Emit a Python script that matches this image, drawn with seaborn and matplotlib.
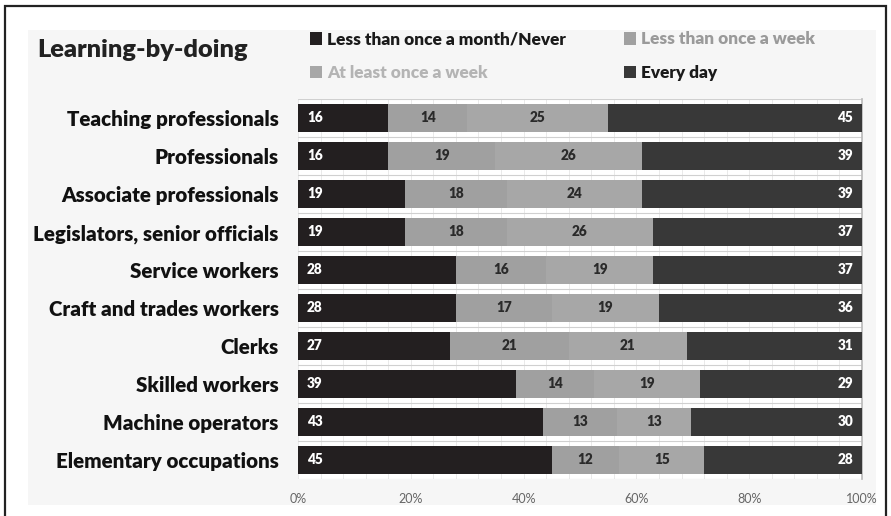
import numpy as np
import pandas as pd
import matplotlib
matplotlib.use("Agg")
import matplotlib.pyplot as plt
from matplotlib.patches import Rectangle, Patch
import seaborn as sns

# -------------------- data --------------------
categories = [
    "Teaching professionals",
    "Professionals",
    "Associate professionals",
    "Legislators, senior officials",
    "Service workers",
    "Craft and trades workers",
    "Clerks",
    "Skilled workers",
    "Machine operators",
    "Elementary occupations",
]
series_names = [
    "Less than once a month/Never",
    "Less than once a week",
    "At least once a week",
    "Every day",
]
never = [16, 16, 19, 19, 28, 28, 27, 39, 43, 45]
less_week = [14, 19, 18, 18, 16, 17, 21, 14, 13, 12]
least_week = [25, 26, 24, 26, 19, 19, 21, 19, 13, 15]
every_day = [45, 39, 39, 37, 37, 36, 31, 29, 30, 28]
x_ticks = [0, 20, 40, 60, 80, 100]
# ----------------------------------------------

seg_colors = ["#231f20", "#a0a0a0", "#a7a7a7", "#383838"]
legend_text_colors = ["#1a1a1a", "#9a9a9a", "#b4b4b4", "#1a1a1a"]
label_colors = ["white", "#2a2a2a", "#2a2a2a", "white"]

sns.set_theme(style="white")
plt.rcParams["font.family"] = ["Lato", "DejaVu Sans"]

df = pd.DataFrame(
    {"cat": categories, "s0": never, "s1": less_week, "s2": least_week, "s3": every_day}
)
segs = df[["s0", "s1", "s2", "s3"]].to_numpy(dtype=float)
# 100% stacked: rounded labels don't always add to 100, so scale each row
shares = segs / segs.sum(axis=1, keepdims=True) * 100
cum = shares.cumsum(axis=1)
starts = cum - shares

fig = plt.figure(figsize=(8.91, 5.16), dpi=100)
fig.patch.set_facecolor("white")

# outer frame + light panel (behind the axes)
fig.patches.append(Rectangle((5 / 891, -0.05), 881 / 891, 1.05 - 6 / 516,
                             transform=fig.transFigure, fill=False,
                             edgecolor="#222222", linewidth=1.6, zorder=-2))
fig.patches.append(Rectangle((28 / 891, 1 - 505 / 516), 848 / 891, 475 / 516,
                             transform=fig.transFigure, facecolor="#f6f6f6",
                             edgecolor="none", zorder=-3))

ax = fig.add_axes([298 / 891, 1 - 479 / 516, 564 / 891, 380 / 516])
ax.set_facecolor("white")

# stacked bars: draw cumulative totals from the right end backwards
for k in range(3, -1, -1):
    sns.barplot(x=cum[:, k], y=df["cat"], orient="h", color=seg_colors[k],
                width=0.72, saturation=1, linewidth=0, ax=ax, zorder=3)

# value labels
for i in range(len(categories)):
    for k in range(4):
        v = int(segs[i, k])
        if k == 0:
            x, ha = starts[i, k] + 1.6, "left"
        elif k == 3:
            x, ha = cum[i, k] - 1.6, "right"
        else:
            x, ha = starts[i, k] + shares[i, k] / 2, "center"
        ax.text(x, i, str(v), ha=ha, va="center", fontsize=9.8, fontweight="heavy",
                color=label_colors[k], zorder=5)

ax.set_xlim(0, 100)
ax.set_ylim(len(categories) - 0.5, -0.5)
ax.set_xticks(x_ticks)
ax.set_xticklabels([f"{t}%" for t in x_ticks], fontsize=9, color="#666666")
ax.set_xticks(np.arange(0, 101, 4), minor=True)
ax.grid(axis="x", which="both", color="#e6e6e6", linewidth=0.6, zorder=0)
for b in np.arange(-0.5, len(categories), 1.0):
    ax.axhline(b, color="#d0d0d0", linewidth=0.8, zorder=1)
ax.tick_params(axis="x", which="both", length=0, pad=10)
ax.tick_params(axis="y", length=0, pad=14)
for lbl in ax.get_yticklabels():
    lbl.set_fontsize(14.8)
    lbl.set_fontweight("heavy")
    lbl.set_color("#111111")
ax.set_xlabel("")
ax.set_ylabel("")
for s in ax.spines.values():
    s.set_visible(False)
ax.spines["right"].set_visible(True)
ax.spines["right"].set_color("#bbbbbb")

# title
fig.text(37 / 891, 1 - 50 / 516, "Learning-by-doing", fontsize=18.3, fontweight="heavy",
         color="#222222", ha="left", va="center")

# legend: two rows of two
handles = [Patch(facecolor=c, edgecolor="none") for c in seg_colors]
order = [0, 2, 1, 3]
leg = fig.legend([handles[j] for j in order], [series_names[j] for j in order],
                 ncol=2, loc="upper left", bbox_to_anchor=(294 / 891, 1 - 16 / 516),
                 frameon=False, fontsize=12.4, handlelength=0.7, handleheight=0.7,
                 handletextpad=0.3, columnspacing=3.4, labelspacing=1.0)
for txt, j in zip(leg.get_texts(), order):
    txt.set_color(legend_text_colors[j])
    txt.set_fontweight("heavy")

fig.savefig("out.png", dpi=100)
